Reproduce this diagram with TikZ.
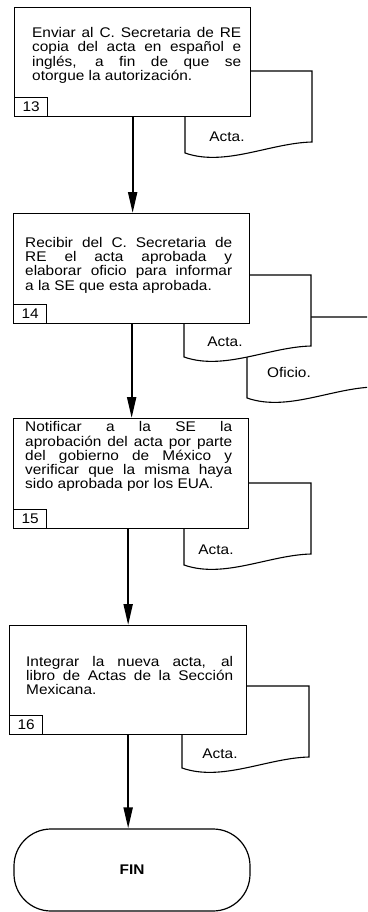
\documentclass[tikz,border=0pt]{standalone}
\usepackage{fontspec}
\setmainfont{Liberation Sans}[FakeStretch=1.1]
\usetikzlibrary{arrows.meta}
\newcommand\myfs{\fontsize{14pt}{14.3pt}\selectfont}
\newcommand\firstl{\rule{0pt}{10.5pt}}
\newcommand\docpath[3]{%
  \draw[docline] (#1,#2) -- (#1,#3) .. controls +(40,14) and +(-42,1) .. ({#1+127},{#3-11}) -- ({#1+127},#2) -- cycle;}
\begin{document}
\begin{tikzpicture}[x=1pt,y=-1pt,
  box/.style={draw, line width=1.3pt, fill=white, inner sep=0pt, anchor=north west},
  numbox/.style={draw, line width=1.3pt, minimum width=33pt, minimum height=19pt, inner sep=0pt, anchor=south west, font=\myfs},
  txt/.style={inner sep=0pt, anchor=north west, align=justify, font=\myfs, execute at begin node={\tolerance=10000\hbadness=10000}},
  lbl/.style={inner sep=0pt, font=\myfs},
  docline/.style={line width=1.1pt, fill=white},
  arr/.style={line width=2pt, -{Triangle[length=21pt,width=9pt]}},
  term/.style={draw, line width=1.2pt, rounded corners=37pt, minimum width=236pt, minimum height=82pt, inner sep=0pt, font=\myfs\bfseries}
]
\useasboundingbox (0,0) rectangle (367,912);
\begin{scope}
\clip (0,0) rectangle (367,912);
% documents
\docpath{185}{71}{153}
\docpath{247}{317}{398}
\docpath{184}{275}{357}
\docpath{184}{483}{565}
\docpath{182}{686}{768}
\end{scope}
\node[lbl] (d13) at (227,137) {Acta.};
\node[lbl] (d14) at (225,342) {Acta.};
\node[lbl] (of14) at (289,372) {Oficio.};
\node[lbl] (d15) at (216,550) {Acta.};
\node[lbl] (d16) at (220,754) {Acta.};
% boxes
\node[box, minimum width=236pt, minimum height=109pt] (b13) at (14,7) {};
\node[box, minimum width=236pt, minimum height=110pt] (b14) at (13,213) {};
\node[box, minimum width=235pt, minimum height=110pt] (b15) at (13,418) {};
\node[box, minimum width=237pt, minimum height=109pt] (b16) at (9,625) {};
\node[numbox] (n13) at (b13.south west) {13};
\node[numbox] (n14) at (b14.south west) {14};
\node[numbox] (n15) at (b15.south west) {15};
\node[numbox] (n16) at (b16.south west) {16};
\node[txt, text width=209pt] (t13) at (32,27) {\firstl Enviar al C. Secretaria de RE\linebreak copia del acta en español e\linebreak inglés, a fin de que se\linebreak otorgue la autorización.};
\node[txt, text width=207pt] (t14) at (25,236.5) {\firstl Recibir del C. Secretaria de\linebreak RE el acta aprobada y\linebreak elaborar oficio para informar\linebreak a la SE que esta aprobada.};
\node[txt, text width=207pt] (t15) at (25,421) {\firstl Notificar a la SE la\linebreak aprobación del acta por parte\linebreak del gobierno de México y\linebreak verificar que la misma haya\linebreak sido aprobada por los EUA.};
\node[txt, text width=207pt] (t16) at (26,655.5) {\firstl Integrar la nueva acta, al\linebreak libro de Actas de la Sección\linebreak Mexicana.};
% terminal
\node[term] (fin) at (132,870) {FIN};
% arrows
\draw[arr] (b13.south) -- (b13.south |- b14.north);
\draw[arr] (b14.south) -- (b14.south |- b15.north);
\draw[arr] (b15.south -| b16.north) -- (b16.north);
\draw[arr] (b16.south) -- (b16.south |- fin.north);
\end{tikzpicture}
\end{document}
